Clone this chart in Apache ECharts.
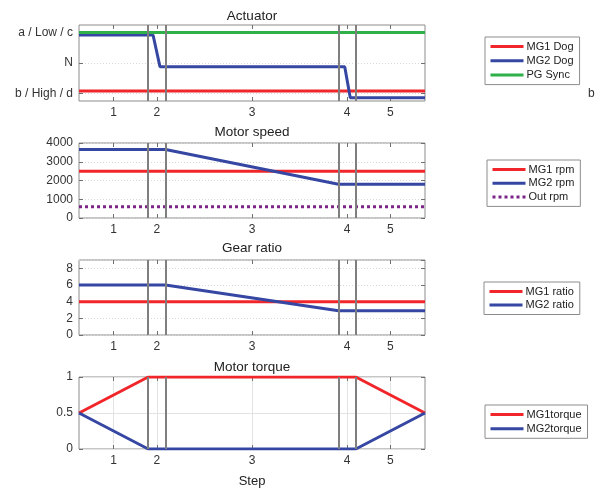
<!DOCTYPE html>
<html>
<head>
<meta charset="utf-8">
<script src="https://cdn.jsdelivr.net/npm/echarts@6/dist/echarts.min.js"></script>
<style>
html,body{margin:0;padding:0;background:#fff;}
#chart{width:596px;height:489px;}
</style>
</head>
<body>
<div id="chart"></div>
<script>
// ---- data ----
const stepEdges = [1, 1.25, 3.75, 4];
const stepTickPos = [0.5, 1.125, 2.5, 3.875, 4.5];
const stepTickLabels = ['1', '2', '3', '4', '5'];

const actTickPos = [-1, 0, 1];
const actTickLabels = ['b / High / d', 'N', 'a / Low / c'];

const mg1Dog = [[0, -0.92], [5, -0.92]];
const mg2Dog = [[0, 0.92], [1.07, 0.92], [1.17, -0.12], [3.84, -0.12], [3.92, -1.14], [5, -1.14]];
const pgSync = [[0, 1], [5, 1]];

const mg1Rpm = [[0, 2500], [5, 2500]];
const mg2Rpm = [[0, 3650], [1.25, 3650], [3.75, 1800], [5, 1800]];
const outRpm = [[0, 600], [5, 600]];

const mg1Ratio = [[0, 4], [5, 4]];
const mg2Ratio = [[0, 6], [1.25, 6], [3.75, 2.9], [5, 2.9]];

const mg1Torque = [[0, 0.5], [1, 1], [4, 1], [5, 0.5]];
const mg2Torque = [[0, 0.5], [1, 0], [4, 0], [5, 0.5]];

const titles = ['Actuator', 'Motor speed', 'Gear ratio', 'Motor torque'];

// ---- styles ----
const RED = '#f0262b', BLUE = '#3547a3', GREEN = '#30b049', PURPLE = '#7c2488';
const FONT = 'Liberation Sans, Arial, sans-serif';
const gridTops = [25, 143, 260, 377];
const gridH = [76, 75, 75, 75];
const titleY = [16, 132, 248, 367];

const chart = echarts.init(document.getElementById('chart'), null, {renderer: 'canvas'});

const grids = gridTops.map((t, i) => ({
  left: 79, top: t, width: 346, height: gridH[i],
  show: true, borderColor: '#8c8c8c', borderWidth: 1, backgroundColor: '#fff'
}));

const tickStyle = {show: true, inside: true, length: 4, lineStyle: {color: '#707070', width: 1}};
const labelStyle = {color: '#333', fontSize: 12, fontFamily: FONT};

const xAxes = [];
const yAxes = [];
const yCfg = [
  {min: -1.25, max: 1.25, custom: actTickPos, fmt: v => actTickLabels[actTickPos.indexOf(v)]},
  {min: 0, max: 4000, interval: 1000},
  {min: 0, max: 9, interval: 2},
  {min: 0, max: 1, interval: 0.5}
];
for (let i = 0; i < 4; i++) {
  const torque = i === 3;
  xAxes.push({
    type: 'value', gridIndex: i, min: 0, max: 5, position: 'bottom',
    axisLine: {show: false, onZero: false},
    axisTick: Object.assign({}, tickStyle, {customValues: stepTickPos}),
    axisLabel: Object.assign({}, labelStyle, {margin: 6, customValues: stepTickPos,
      formatter: v => { const k = stepTickPos.findIndex(p => Math.abs(p - v) < 1e-6); return k >= 0 ? stepTickLabels[k] : ''; }}),
    splitLine: {show: torque, lineStyle: {color: '#e3e3e3', width: 1, type: 'solid'}},
    name: torque ? 'Step' : '', nameLocation: 'middle', nameGap: 26,
    nameTextStyle: {color: '#222', fontSize: 13, fontFamily: FONT}
  });
  xAxes.push({
    type: 'value', gridIndex: i, min: 0, max: 5, position: 'top',
    axisLine: {show: false, onZero: false},
    axisTick: Object.assign({}, tickStyle, {customValues: stepTickPos}),
    axisLabel: {show: false}, splitLine: {show: false}
  });
  const c = yCfg[i];
  const yl = {
    type: 'value', gridIndex: i, min: c.min, max: c.max, position: 'left',
    axisLine: {show: false, onZero: false},
    axisTick: Object.assign({}, tickStyle),
    axisLabel: Object.assign({}, labelStyle, {margin: 6, formatter: v => String(v)}),
    splitLine: {show: true, lineStyle: {color: torque ? '#e3e3e3' : '#d8d8d8', width: 1, type: torque ? 'solid' : [1, 2]}}
  };
  const yr = {
    type: 'value', gridIndex: i, min: c.min, max: c.max, position: 'right',
    axisLine: {show: false, onZero: false},
    axisTick: Object.assign({}, tickStyle),
    axisLabel: {show: false}, splitLine: {show: false}
  };
  if (c.interval) { yl.interval = c.interval; yr.interval = c.interval; }
  if (c.custom) {
    yl.axisTick.customValues = c.custom;
    yl.axisLabel.customValues = c.custom;
    yl.axisLabel.formatter = c.fmt;
    yr.axisTick.customValues = c.custom;
  }
  yAxes.push(yl, yr);
}

function lineSeries(name, data, gi, color, extra) {
  return Object.assign({
    type: 'line', name: name, data: data,
    xAxisIndex: gi * 2, yAxisIndex: gi * 2,
    symbol: 'none', z: 3, animation: false,
    lineStyle: {color: color, width: 3}, itemStyle: {color: color}
  }, extra || {});
}

const series = [];
for (let i = 0; i < 4; i++) {
  series.push({
    type: 'line', name: 'steps' + i, data: [], xAxisIndex: i * 2, yAxisIndex: i * 2,
    z: 2, animation: false, silent: true,
    markLine: {
      silent: true, symbol: 'none', animation: false, label: {show: false},
      lineStyle: {color: '#7f7f7f', width: 2, type: 'solid'},
      data: stepEdges.map(x => ({xAxis: x}))
    }
  });
}
series.push(
  lineSeries('MG1 Dog', mg1Dog, 0, RED),
  lineSeries('MG2 Dog', mg2Dog, 0, BLUE),
  lineSeries('PG Sync', pgSync, 0, GREEN),
  lineSeries('MG1 rpm', mg1Rpm, 1, RED),
  lineSeries('MG2 rpm', mg2Rpm, 1, BLUE),
  lineSeries('Out rpm', outRpm, 1, PURPLE, {lineStyle: {color: PURPLE, width: 3, type: [3, 3]}}),
  lineSeries('MG1 ratio', mg1Ratio, 2, RED),
  lineSeries('MG2 ratio', mg2Ratio, 2, BLUE),
  lineSeries('MG1torque', mg1Torque, 3, RED),
  lineSeries('MG2torque', mg2Torque, 3, BLUE)
);

function legend(names, left, top, gap) {
  return {
    data: names, orient: 'vertical', left: left, top: top,
    itemWidth: 33, itemHeight: 12, itemGap: gap,
    padding: [4, 6, 4, 4],
    borderColor: '#8c8c8c', borderWidth: 1, backgroundColor: '#fff',
    lineStyle: {width: 3},
    itemStyle: {color: 'rgba(0,0,0,0)', borderWidth: 0, opacity: 0},
    textStyle: {fontSize: 11, color: '#222', fontFamily: FONT, padding: [0, 0, 0, -2]},
    selectedMode: false
  };
}

const option = {
  animation: false,
  backgroundColor: '#fff',
  title: titles.map((t, i) => ({
    text: t, left: 252, top: titleY[i] - 7, textAlign: 'center',
    textStyle: {fontSize: 13.5, fontWeight: 'normal', color: '#222', fontFamily: FONT},
    padding: 0
  })),
  grid: grids,
  xAxis: xAxes,
  yAxis: yAxes,
  legend: [
    legend(['MG1 Dog', 'MG2 Dog', 'PG Sync'], 485, 37, 3.3),
    legend(['MG1 rpm', 'MG2 rpm', 'Out rpm'], 487, 160, 2.7),
    legend(['MG1 ratio', 'MG2 ratio'], 484, 282, 2.5),
    legend(['MG1torque', 'MG2torque'], 485, 405, 3.3)
  ],
  graphic: [
    {type: 'text', left: 588, top: 88, style: {text: 'b / High / d', fontSize: 12, fill: '#333', fontFamily: FONT}}
  ],
  series: series
};
chart.setOption(option);
</script>
</body>
</html>
